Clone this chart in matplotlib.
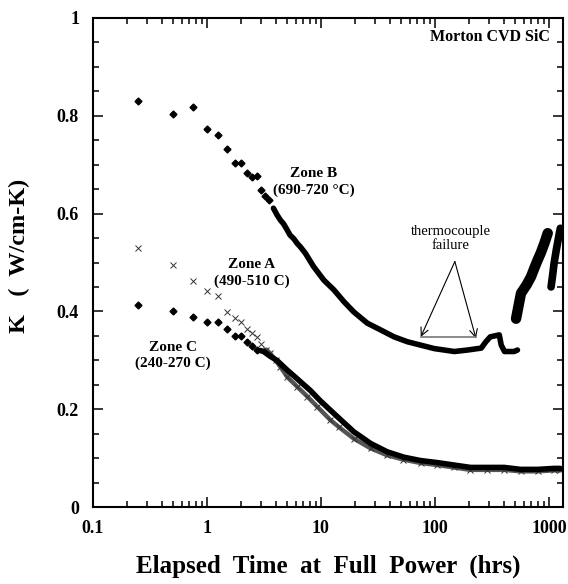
"""Thermal conductivity of Morton CVD SiC vs elapsed time at full power."""
import matplotlib
matplotlib.use("Agg")
import matplotlib.pyplot as plt
from matplotlib.ticker import FixedLocator, LogLocator, NullFormatter

SERIF = ["Liberation Serif", "DejaVu Serif"]
plt.rcParams["font.family"] = SERIF

# Zone B (690-720 C): discrete early readings, then the dense record
zone_b_t = [0.25, 0.5, 0.75, 1.0, 1.25, 1.5, 1.75, 2.0, 2.25, 2.5, 2.75, 3.0, 3.25, 3.5]
zone_b_k = [0.831, 0.803, 0.817, 0.773, 0.761, 0.732, 0.703, 0.703, 0.683, 0.674,
            0.676, 0.648, 0.635, 0.628]
zone_b_dense_t = [3.83, 4.13, 4.4, 4.7, 4.96, 5.36, 5.76, 6.24, 6.6, 7.3, 8.6, 10.6,
                  13.0, 15.9, 19.4, 25.5, 33.5, 43.8, 57.3, 75.2, 98.6, 148, 193,
                  255, 280, 306, 367, 382, 408, 495, 530]
zone_b_dense_k = [0.611, 0.597, 0.587, 0.579, 0.570, 0.556, 0.549, 0.538, 0.532,
                  0.519, 0.492, 0.464, 0.444, 0.420, 0.399, 0.376, 0.362, 0.348,
                  0.338, 0.331, 0.324, 0.318, 0.321, 0.325, 0.338, 0.348, 0.352,
                  0.331, 0.318, 0.318, 0.321]
zone_b_late1_t = [515, 530, 569, 640, 697, 750, 797, 850, 912, 977]
zone_b_late1_k = [0.385, 0.400, 0.437, 0.455, 0.471, 0.490, 0.505, 0.520, 0.539, 0.560]
zone_b_late2_t = [1045, 1080, 1110, 1160, 1220, 1260]
zone_b_late2_k = [0.450, 0.475, 0.498, 0.525, 0.553, 0.570]

# Zone A (490-510 C)
zone_a_t = [0.25, 0.5, 0.75, 1.0, 1.25, 1.5, 1.75, 2.0, 2.25, 2.5, 2.75, 3.0]
zone_a_k = [0.529, 0.495, 0.462, 0.442, 0.431, 0.399, 0.387, 0.379, 0.365, 0.355,
            0.348, 0.333]
zone_a_dense_t = [3.3, 3.6, 4.0, 4.4, 5.06, 6.2, 7.6, 9.3, 12.1, 14.3, 19.4, 27.3,
                  38, 53, 75, 104, 146, 205, 287, 405, 566, 795, 1113, 1260]
zone_a_dense_k = [0.322, 0.314, 0.300, 0.287, 0.266, 0.246, 0.226, 0.205, 0.178,
                  0.164, 0.140, 0.120, 0.106, 0.097, 0.090, 0.086, 0.081, 0.076,
                  0.076, 0.076, 0.073, 0.073, 0.075, 0.075]

# Zone C (240-270 C)
zone_c_t = [0.25, 0.5, 0.75, 1.0, 1.25, 1.5, 1.75, 2.0, 2.25, 2.5, 2.75]
zone_c_k = [0.413, 0.401, 0.388, 0.379, 0.379, 0.364, 0.350, 0.350, 0.337, 0.330,
            0.321]
zone_c_dense_t = [2.94, 3.14, 3.6, 4.1, 4.7, 5.06, 6.2, 8.1, 9.9, 13.9, 19.4, 27.3,
                  38.1, 53.3, 75, 104, 146, 205, 287, 405, 566, 795, 1113, 1260]
zone_c_dense_k = [0.320, 0.318, 0.308, 0.300, 0.287, 0.280, 0.262, 0.238, 0.217,
                  0.185, 0.154, 0.130, 0.113, 0.102, 0.095, 0.091, 0.086, 0.081,
                  0.081, 0.081, 0.077, 0.077, 0.079, 0.079]

x_ticks = [0.1, 1, 10, 100, 1000]
x_tick_labels = ["0.1", "1", "10", "100", "1000"]
y_ticks = [0, 0.2, 0.4, 0.6, 0.8, 1.0]
y_tick_labels = ["0", "0.2", "0.4", "0.6", "0.8", "1"]

fig = plt.figure(figsize=(5.68, 5.84), dpi=100)
ax = fig.add_axes([0.1637, 0.1318, 0.8275, 0.8374])

# Zone A: crosses, dense part as a grey hatched-looking band
ax.plot(zone_a_dense_t, zone_a_dense_k, color="#555555", lw=3.2,
        solid_capstyle="round", zorder=2)
ax.plot(zone_a_dense_t, zone_a_dense_k, ls="none", marker="x", ms=4,
        mew=0.7, color="#333333", zorder=2)
ax.plot(zone_a_t, zone_a_k, ls="none", marker="x", ms=4.5, mew=0.7,
        color="#333333", zorder=3)

# Zone C: diamonds then dense black band
ax.plot(zone_c_t, zone_c_k, ls="none", marker="D", ms=3.5, color="black", zorder=4)
ax.plot(zone_c_dense_t, zone_c_dense_k, color="black", lw=4,
        solid_capstyle="round", zorder=4)

# Zone B
ax.plot(zone_b_t, zone_b_k, ls="none", marker="D", ms=3.5, color="black", zorder=4)
ax.plot(zone_b_dense_t, zone_b_dense_k, color="black", lw=4,
        solid_capstyle="round", solid_joinstyle="round", zorder=4)
ax.plot(zone_b_late1_t, zone_b_late1_k, color="black", lw=7.5,
        solid_capstyle="round", zorder=4)
ax.plot(zone_b_late2_t, zone_b_late2_k, color="black", lw=5.5,
        solid_capstyle="round", zorder=4)

ax.set_xscale("log")
ax.set_xlim(0.1, 1330)
ax.set_ylim(0, 1.0)

ax.xaxis.set_major_locator(FixedLocator(x_ticks))
ax.set_xticklabels(x_tick_labels)
ax.xaxis.set_minor_locator(LogLocator(base=10, subs=range(2, 10), numticks=20))
ax.xaxis.set_minor_formatter(NullFormatter())
ax.yaxis.set_major_locator(FixedLocator(y_ticks))
ax.set_yticklabels(y_tick_labels)
ax.yaxis.set_minor_locator(FixedLocator([i * 0.05 for i in range(21)]))

ax.tick_params(which="both", direction="in", top=True, right=True, width=1.1)
ax.tick_params(which="major", length=7, labelsize=13)
ax.tick_params(axis="y", which="major", pad=10)
ax.tick_params(axis="x", which="major", pad=9)
ax.tick_params(which="minor", length=4.5)
for lab in ax.get_xticklabels() + ax.get_yticklabels():
    lab.set_fontweight("bold")
for sp in ax.spines.values():
    sp.set_linewidth(1.5)

ax.set_xlabel("Elapsed  Time  at  Full  Power  (hrs)", fontsize=18,
              fontweight="bold")
ax.xaxis.set_label_coords(0.5, -0.098)
ax.set_ylabel("K   (  W/cm-K)", fontsize=17.5, fontweight="bold")
ax.yaxis.set_label_coords(-0.133, 0.513)

txt = dict(fontsize=11, fontweight="bold", ha="center", va="center")
ax.text(0.972, 0.961, "Morton CVD SiC", transform=ax.transAxes, ha="right",
        va="center", fontsize=11.5, fontweight="bold")
ax.text(8.6, 0.683, "Zone B", **txt)
ax.text(8.6, 0.648, "(690-720 °C)", **txt)
ax.text(2.45, 0.495, "Zone A", **txt)
ax.text(2.45, 0.462, "(490-510 C)", **txt)
ax.text(0.506, 0.327, "Zone C", **txt)
ax.text(0.506, 0.294, "(240-270 C)", **txt)
ax.text(138, 0.564, "thermocouple", fontsize=10.5, ha="center", va="center")
ax.text(138, 0.535, "failure", fontsize=10.5, ha="center", va="center")

apex = (149.6, 0.502)
for tip in [(75.2, 0.348), (229, 0.345)]:
    ax.annotate("", xy=tip, xytext=apex,
                arrowprops=dict(arrowstyle="->", color="black", lw=0.8,
                                mutation_scale=14, shrinkA=0, shrinkB=0))
ax.plot([75.2, 229], [0.347, 0.347], color="#777777", lw=1.2, zorder=3)

fig.savefig("out.png", dpi=100)
